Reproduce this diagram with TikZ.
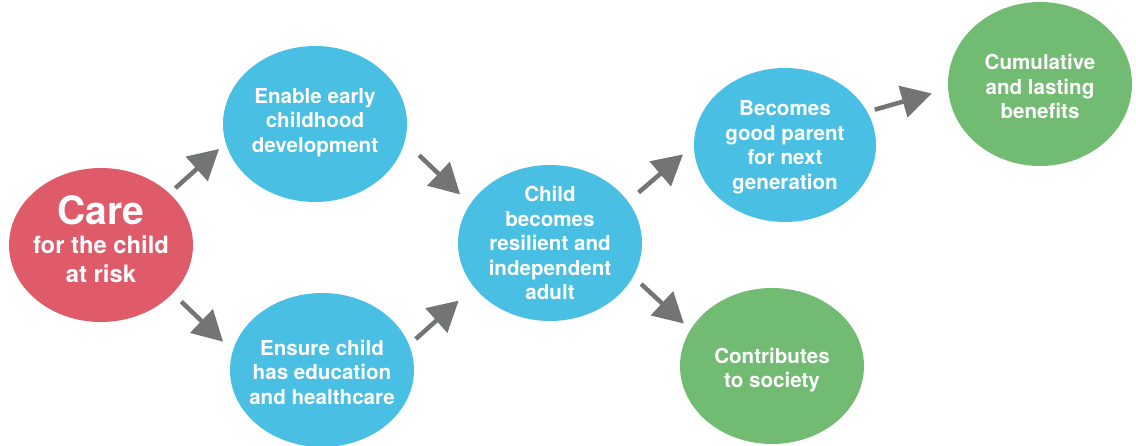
\documentclass[tikz,border=0pt]{standalone}
\usepackage{fontspec}
\setmainfont{TeX Gyre Heros}
\usetikzlibrary{shapes.geometric,arrows.meta}
\definecolor{cred}{HTML}{E05B6A}
\definecolor{cblue}{HTML}{48BFE3}
\definecolor{cgreen}{HTML}{72BB72}
\definecolor{cgray}{HTML}{737574}
\newcommand{\ctext}[2][-8pt]{\makebox[0pt]{\smash{\raisebox{#1}{\begin{tabular}{@{}c@{}}#2\end{tabular}}}}}
\begin{document}
\begin{tikzpicture}[x=1pt,y=-1pt,
  bubble/.style={ellipse, inner sep=0pt, outer sep=0pt, minimum width=184pt, minimum height=156pt,
    text=white, font=\fontsize{20.6}{24.5}\selectfont\bfseries},
  arr/.style={draw=cgray, line width=4.5pt, -{Triangle[length=30pt,width=32pt]}}]
\useasboundingbox (0,0) rectangle (1136,446);
\node[bubble, fill=cred, minimum height=154pt, font=\fontsize{23.8}{29}\selectfont\bfseries] (care) at (101,245)
  {\ctext[-5pt]{{\fontsize{39}{39}\selectfont Care}\\for the child\\at risk}};
\node[bubble, fill=cblue] (enable) at (315,124) {\ctext[-4pt]{Enable early\\childhood\\development}};
\node[bubble, fill=cblue, minimum height=154pt] (ensure) at (322,370) {\ctext[-10pt]{Ensure child\\has education\\and healthcare}};
\node[bubble, fill=cblue] (child) at (550,243) {\ctext[-8pt]{Child\\becomes\\resilient and\\independent\\adult}};
\node[bubble, fill=cblue, minimum width=182pt, minimum height=154pt] (parent) at (785,145) {\ctext[-8pt]{Becomes\\good parent\\for next\\generation}};
\node[bubble, fill=cgreen] (contrib) at (772,366) {\ctext[-10pt]{Contributes\\to society}};
\node[bubble, fill=cgreen, minimum height=164pt] (cumul) at (1040,84) {\ctext[-10.5pt]{Cumulative\\and lasting\\benefits}};
\draw[arr, shorten <=8pt, shorten >=9pt] (care.37) -- (enable.192);
\draw[arr, shorten <=20pt, shorten >=14pt] (enable.349) -- (child.154);
\draw[arr, shorten <=12pt, shorten >=13.5pt] (care.326) -- (ensure.168);
\draw[arr, shorten <=9pt, shorten >=20.5pt] (ensure.16) -- (child.210);
\draw[arr, shorten <=14pt, shorten >=14.5pt] (child.28) -- (parent.180);
\draw[arr, shorten <=11pt, shorten >=9pt] (child.338) -- (contrib.156);
\draw[arr, shorten <=8pt, shorten >=17pt] (parent.22) -- (cumul.183);
\end{tikzpicture}
\end{document}
